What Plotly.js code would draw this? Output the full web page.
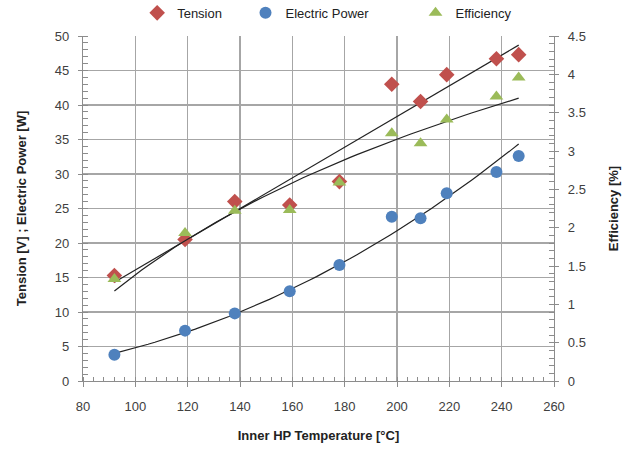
<!DOCTYPE html>
<html>
<head>
<meta charset="utf-8">
<script src="https://cdn.plot.ly/plotly-3.0.1.min.js"></script>
<style>html,body{margin:0;padding:0;background:#fff;}#chart{width:629px;height:450px;}</style>
</head>
<body>
<div id="chart"></div>
<script>
// Data
const temperature = [92, 119, 138, 159, 178, 198, 209, 219, 238, 246.5];
const tension = [15.3, 20.5, 26.0, 25.5, 28.9, 43.0, 40.5, 44.4, 46.7, 47.3];
const electricPower = [3.8, 7.3, 9.8, 13.0, 16.8, 23.8, 23.6, 27.2, 30.3, 32.6];
const efficiency = [1.33, 1.93, 2.22, 2.23, 2.59, 3.23, 3.10, 3.41, 3.71, 3.96];
const seriesNames = ['Tension', 'Electric Power', 'Efficiency'];

// Excel-style trend lines computed from the data
function linfit(xs, ys) {
  const n = xs.length;
  const mx = xs.reduce((a, b) => a + b, 0) / n;
  const my = ys.reduce((a, b) => a + b, 0) / n;
  let sxy = 0, sxx = 0;
  for (let i = 0; i < n; i++) { sxy += (xs[i] - mx) * (ys[i] - my); sxx += (xs[i] - mx) ** 2; }
  const b = sxy / sxx;
  return {a: my - b * mx, b: b};
}
const xMin = Math.min(...temperature), xMax = Math.max(...temperature);
const fitX = [];
for (let i = 0; i <= 60; i++) fitX.push(xMin + (xMax - xMin) * i / 60);

// linear trend for tension
const tl = linfit(temperature, tension);
const tensionFit = fitX.map(x => tl.a + tl.b * x);
// power trend for electric power: y = A x^b
const pl = linfit(temperature.map(Math.log), electricPower.map(Math.log));
const powerFit = fitX.map(x => Math.exp(pl.a + pl.b * Math.log(x)));
// logarithmic trend for efficiency: y = a ln x + c
const el = linfit(temperature.map(Math.log), efficiency);
const effFit = fitX.map(x => el.a + el.b * Math.log(x));

const lineStyle = {color: '#222', width: 1.2};
const traces = [
  {x: fitX, y: tensionFit, mode: 'lines', line: lineStyle, showlegend: false, hoverinfo: 'skip'},
  {x: fitX, y: powerFit, mode: 'lines', line: lineStyle, showlegend: false, hoverinfo: 'skip'},
  {x: fitX, y: effFit, yaxis: 'y2', mode: 'lines', line: lineStyle, showlegend: false, hoverinfo: 'skip'},
  {x: temperature, y: tension, name: seriesNames[0], mode: 'markers', legend: 'legend',
   marker: {symbol: 'diamond', size: 12, color: '#C0504D'}},
  {x: temperature, y: electricPower, name: seriesNames[1], mode: 'markers', legend: 'legend2',
   marker: {symbol: 'circle', size: 12, color: '#4F81BD'}},
  {x: temperature, y: efficiency, name: seriesNames[2], yaxis: 'y2', mode: 'markers', legend: 'legend3',
   marker: {symbol: 'triangle-up', size: 12, color: '#9BBB59'}}
];

const font = {family: 'Liberation Sans, Arial, sans-serif', size: 13, color: '#404040'};
const gridCol = '#a6a6a6';
const legendBase = {orientation: 'h', yanchor: 'middle', y: 1.067, xanchor: 'left',
  bgcolor: 'rgba(0,0,0,0)', font: {family: font.family, size: 13, color: '#222'}, itemwidth: 30};

const layout = {
  width: 629, height: 450,
  margin: {l: 83, r: 75, t: 36, b: 69, autoexpand: false},
  paper_bgcolor: '#fff', plot_bgcolor: '#fff',
  font: font,
  xaxis: {
    range: [80, 260], dtick: 20, tick0: 80,
    showgrid: true, gridcolor: gridCol, gridwidth: 1.5,
    showline: true, linecolor: '#8c8c8c', linewidth: 1.2,
    ticks: 'outside', ticklen: 5, tickcolor: '#8c8c8c', ticklabelstandoff: 8,
    minor: {dtick: 4, ticks: 'inside', ticklen: 4, tickcolor: '#8c8c8c', showgrid: false},
    zeroline: false,
    title: {text: '<b>Inner HP Temperature [°C]</b>', font: {size: 13, color: '#222'}, standoff: 18}
  },
  yaxis: {
    range: [0, 50], dtick: 5,
    showgrid: true, gridcolor: gridCol, gridwidth: 1.5,
    showline: true, linecolor: '#8c8c8c', linewidth: 1.2,
    ticks: 'outside', ticklen: 4, tickcolor: '#8c8c8c', ticklabelstandoff: 6,
    minor: {dtick: 1, ticks: 'inside', ticklen: 5, tickcolor: '#8c8c8c', showgrid: false},
    zeroline: false,
    title: {text: '<b>Tension [V] ; Electric Power [W]</b>', font: {size: 13, color: '#222'}, standoff: 25}
  },
  yaxis2: {
    overlaying: 'y', side: 'right',
    range: [0, 4.5], dtick: 0.5,
    showgrid: false,
    showline: true, linecolor: '#8c8c8c', linewidth: 1.2,
    ticks: 'outside', ticklen: 4, tickcolor: '#8c8c8c', ticklabelstandoff: 6,
    minor: {dtick: 0.1, ticks: 'inside', ticklen: 5, tickcolor: '#8c8c8c', showgrid: false},
    zeroline: false,
    title: {text: '<b>Efficiency [%]</b>', font: {size: 13, color: '#222'}, standoff: 24}
  },
  legend: Object.assign({}, legendBase, {x: 0.115}),
  legend2: Object.assign({}, legendBase, {x: 0.345}),
  legend3: Object.assign({}, legendBase, {x: 0.706}),
  showlegend: true
};

Plotly.newPlot('chart', traces, layout, {displayModeBar: false, staticPlot: true});
</script>
</body>
</html>
